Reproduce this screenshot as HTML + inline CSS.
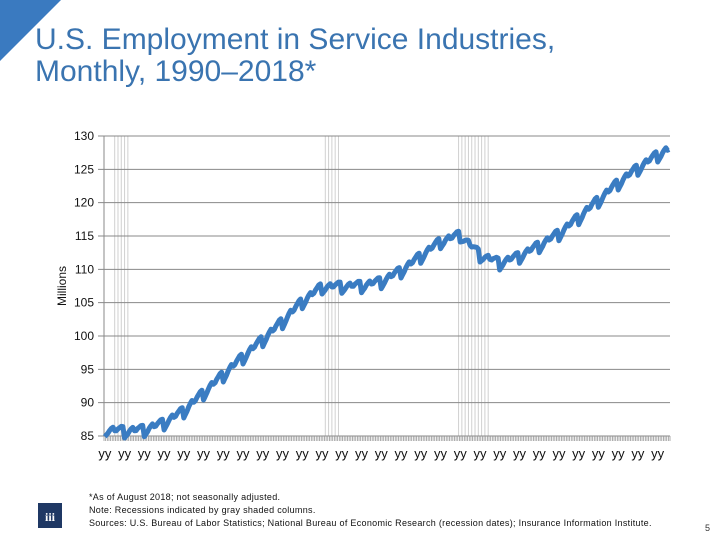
<!DOCTYPE html>
<html><head><meta charset="utf-8"><style>
html,body{margin:0;padding:0;background:#fff;}
body{width:720px;height:540px;position:relative;overflow:hidden;font-family:"Liberation Sans",sans-serif;}
.t{position:absolute;left:35px;top:24px;color:#3a74b0;font-size:30px;line-height:32px;}
.note{position:absolute;left:89px;top:491px;font-size:9px;line-height:13px;color:#111;letter-spacing:0.3px;}
</style></head><body>
<svg width="720" height="540" style="position:absolute;left:0;top:0">
<polygon points="0,0 61,0 0,61" fill="#3a7ac0"/>
<g id="chart"></g>
<rect x="38" y="503" width="24" height="25" fill="#1f3864"/>
<text x="50" y="521" fill="#fff" font-size="12" font-weight="bold" text-anchor="middle" font-family="Liberation Serif, serif">iii</text>
<text x="705" y="531" font-size="9" fill="#333">5</text>
</svg>
<div class="t">U.S. Employment in Service Industries,<br>Monthly, 1990–2018*</div>
<div class="note">*As of August 2018; not seasonally adjusted.<br>Note: Recessions indicated by gray shaded columns.<br>Sources: U.S. Bureau of Labor Statistics; National Bureau of Economic Research (recession dates); Insurance Information Institute.</div>
<script>
const years=[1990,1991,1992,1993,1994,1995,1996,1997,1998,1999,2000,2001,2002,2003,2004,2005,2006,2007,2008,2009,2010,2011,2012,2013,2014,2015,2016,2017,2018,2019];
const januaryLevels=[85.8,85.6,85.8,86.8,88.6,91.3,94,96.7,99.3,102,105,107.2,107.3,107.4,108,109.6,111.8,114,115,112,110.8,111.8,113.4,115.2,117.6,120.2,122.8,125,127,128.5];
const seasonal=[-0.9,-0.6,-0.3,0.1,0.4,0.6,0.1,0.1,0.4,0.6,0.8,0.8];
const recessions=[[1990,6,1991,2],[2001,2,2001,10],[2007,11,2009,5]];
const yTicks=[85,90,95,100,105,110,115,120,125,130];
const lastYearIndex=28,lastMonth=7;
const NS="http://www.w3.org/2000/svg";
const g=document.getElementById('chart');
const X0=104,X1=670,Y0=436,Y1=136;
const nMonths=lastYearIndex*12+lastMonth+1;
const xs=i=>X0+(i+0.5)*(X1-X0)/nMonths;
const ys=v=>Y0-(v-85)*(Y0-Y1)/(130-85);
function mk(t,a){const e=document.createElementNS(NS,t);for(const k in a)e.setAttribute(k,a[k]);g.appendChild(e);return e;}
recessions.forEach(r=>{const s=(r[0]-years[0])*12+r[1],e=(r[2]-years[0])*12+r[3];
 for(let i=s;i<=e;i+=2){const l=mk('line',{x1:xs(i),x2:xs(i),y1:Y1,y2:Y0,stroke:'#d0d0d0','stroke-width':1});
 
 }});
yTicks.forEach(v=>{const l=mk('line',{x1:X0-6,x2:X1,y1:ys(v),y2:ys(v),stroke:'#888','stroke-width':1});
 
 
 const t=mk('text',{x:X0-10,y:ys(v)+4,'font-size':12,'text-anchor':'end',fill:'#111'});t.textContent=v;
 
 });
mk('line',{x1:X0,x2:X0,y1:Y1,y2:Y0,stroke:'#888'});
for(let i=0;i<=nMonths;i++){const x=X0+i*(X1-X0)/nMonths;mk('line',{x1:x,x2:x,y1:Y0,y2:Y0+5,stroke:'#999','stroke-width':0.8});}
for(let k=0;k<=lastYearIndex;k++){const t=mk('text',{x:xs(k*12),y:Y0+22,'font-size':13,'text-anchor':'middle',fill:'#111'});t.textContent='yy';
 
 }
const yl=mk('text',{x:0,y:0,'font-size':12,'text-anchor':'middle',fill:'#111',transform:'translate(66,286) rotate(-90)'});yl.textContent='Millions';


let pts=[];
for(let i=0;i<nMonths;i++){const yi=Math.floor(i/12),m=i%12;
 const trend=januaryLevels[yi]+(januaryLevels[yi+1]-januaryLevels[yi])*m/12;
 pts.push(xs(i).toFixed(1)+','+ys(trend+seasonal[m]).toFixed(1));}
const p=mk('polyline',{points:pts.join(' '),fill:'none',stroke:'#3a7cc2','stroke-width':5,'stroke-linejoin':'round'});


</script>
</body></html>
